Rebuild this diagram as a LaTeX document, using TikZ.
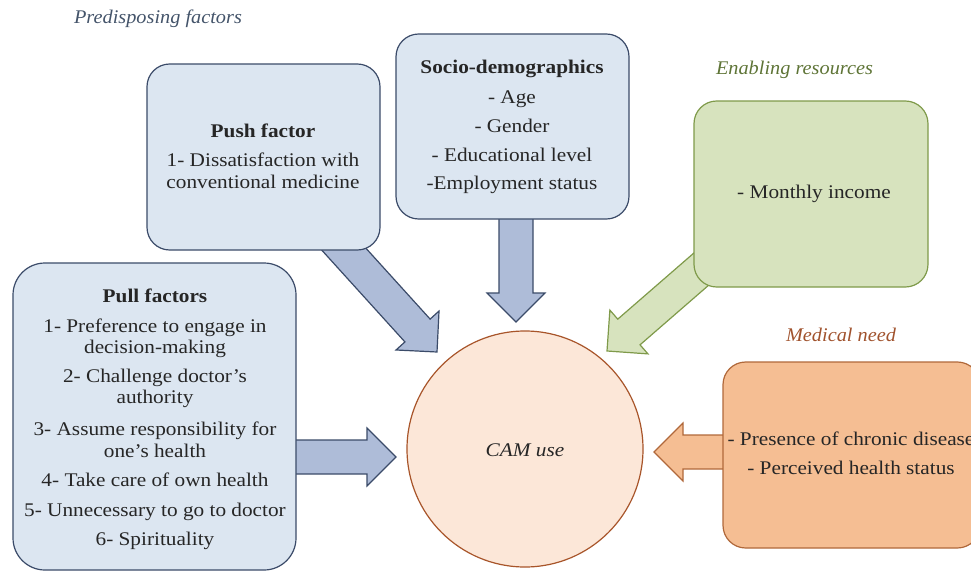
\documentclass[tikz,border=0pt]{standalone}
\usepackage{fontspec}
\setmainfont{Liberation Serif}[FakeStretch=1.1]
\newfontfamily\grpfont{Liberation Serif}[FakeStretch=1.05]
\usetikzlibrary{calc}

\definecolor{bluefill}{HTML}{DCE6F1}
\definecolor{blueline}{HTML}{3B4B69}
\definecolor{bluearrow}{HTML}{AEBCD8}
\definecolor{greenfill}{HTML}{D7E3BE}
\definecolor{greenline}{HTML}{7F9A4A}
\definecolor{orangefill}{HTML}{F5BE93}
\definecolor{orangeline}{HTML}{B0683A}
\definecolor{camfill}{HTML}{FCE7D8}
\definecolor{camline}{HTML}{A8552A}
\definecolor{txt}{HTML}{262626}
\definecolor{predcol}{HTML}{44546A}
\definecolor{enabcol}{HTML}{5E7436}
\definecolor{medcol}{HTML}{A0522D}

% block arrow from #2 to tip #3, drawn with style #1
\newcommand\blockarrow[3]{%
  \coordinate (#2-h) at ($(#3)!21.75pt!(#2)$);
  \draw[#1] ($(#2)!12.75pt!90:(#3)$) -- ($(#2-h)!12.75pt!90:(#3)$)
    -- ($(#2-h)!21.75pt!90:(#3)$) -- (#3)
    -- ($(#2-h)!21.75pt!-90:(#3)$) -- ($(#2-h)!12.75pt!-90:(#3)$)
    -- ($(#2)!12.75pt!-90:(#3)$) -- cycle;
}

\tikzset{
  box/.style={draw, line width=0.9pt, rounded corners=17pt, inner sep=0pt},
  bluebox/.style={box, fill=bluefill, draw=blueline},
  greenbox/.style={box, fill=greenfill, draw=greenline},
  orangebox/.style={box, fill=orangefill, draw=orangeline},
  bluearr/.style={fill=bluearrow, draw=blueline, line width=0.9pt, line join=miter},
  greenarr/.style={fill=greenfill, draw=greenline, line width=0.9pt, line join=miter},
  orangearr/.style={fill=orangefill, draw=orangeline, line width=0.9pt, line join=miter},
  line/.style={anchor=base, text=txt, inner sep=0pt, font=\fontsize{14.5}{17}\selectfont},
  head/.style={line, font=\fontsize{14.5}{17}\selectfont\bfseries},
  group/.style={anchor=base, inner sep=0pt, font=\fontsize{14.5}{17}\selectfont\grpfont\itshape},
}

\begin{document}
\begin{tikzpicture}[x=0.75pt, y=-0.75pt]
\useasboundingbox (0,0) rectangle (971,571);
\begin{scope}
\clip (0,0) rectangle (971,571);

% arrow end points
\coordinate (pushS) at (331,235);  \coordinate (pushT) at (437,352);
\coordinate (socS) at (516,200);   \coordinate (socT) at (516,322);
\coordinate (enS) at (744,232);    \coordinate (enT) at (607,351);
\coordinate (pullS) at (280,457);  \coordinate (pullT) at (396,457);
\coordinate (medS) at (740,452);   \coordinate (medT) at (654,452);

\blockarrow{bluearr}{pushS}{pushT}
\blockarrow{bluearr}{socS}{socT}
\blockarrow{greenarr}{enS}{enT}
\blockarrow{bluearr}{pullS}{pullT}
\blockarrow{orangearr}{medS}{medT}

% boxes
\node[bluebox, minimum width=233*0.75pt, minimum height=186*0.75pt] (push) at (263.5,157) {};
\node[bluebox, minimum width=233*0.75pt, minimum height=185*0.75pt] (socio) at (512.5,126.5) {};
\node[greenbox, minimum width=234*0.75pt, minimum height=186*0.75pt] (enab) at (811,194) {};
\node[bluebox, rounded corners=24pt, minimum width=283*0.75pt, minimum height=307*0.75pt] (pull) at (154.5,416.5) {};
\node[orangebox, minimum width=257*0.75pt, minimum height=186*0.75pt] (med) at (851.5,455) {};

% central outcome
\node[circle, draw=camline, fill=camfill, line width=0.9pt, minimum size=236*0.75pt, inner sep=0pt] (cam) at (525,449) {};
\node[line, font=\fontsize{14.5}{17}\selectfont\itshape] (camtext) at (525,456) {CAM use};

% group labels
\node[group, text=predcol] (lpred) at (158,23) {Predisposing factors};
\node[group, text=enabcol] (lenab) at (794.5,74) {Enabling resources};
\node[group, text=medcol] (lmed) at (841,341) {Medical need};

% push factor
\node[head] (push0) at (263,137) {Push factor};
\node[line] (push1) at (263,166) {1- Dissatisfaction with};
\node[line] (push2) at (263,188) {conventional medicine};

% socio-demographics
\node[head] (soc0) at (512,73) {Socio-demographics};
\node[line] (soc1) at (512,103) {- Age};
\node[line] (soc2) at (512,132) {- Gender};
\node[line] (soc3) at (512,161) {- Educational level};
\node[line] (soc4) at (512,189) {-Employment status};

% enabling resources
\node[line] (en1) at (814,198) {- Monthly income};

% pull factors
\node[head] (pull0) at (155,302) {Pull factors};
\node[line] (pull1) at (155,332) {1- Preference to engage in};
\node[line] (pull2) at (155,353) {decision-making};
\node[line] (pull3) at (155,382) {2- Challenge doctor’s};
\node[line] (pull4) at (155,403) {authority};
\node[line] (pull5) at (155,435) {3- Assume responsibility for};
\node[line] (pull6) at (155,457) {one’s health};
\node[line] (pull7) at (155,486) {4- Take care of own health};
\node[line] (pull8) at (155,516) {5- Unnecessary to go to doctor};
\node[line] (pull9) at (155,545) {6- Spirituality};

% medical need
\node[line] (med1) at (851,445) {- Presence of chronic disease};
\node[line] (med2) at (851,474) {- Perceived health status};
\end{scope}
\end{tikzpicture}
\end{document}
